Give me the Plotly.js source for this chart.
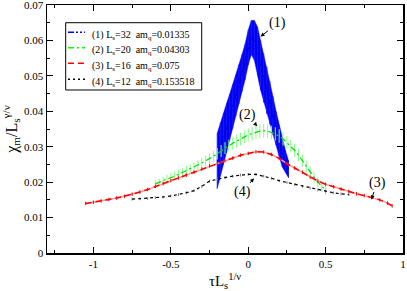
<!DOCTYPE html>
<html>
<head>
<meta charset="utf-8">
<script src="https://cdn.plot.ly/plotly-3.0.1.min.js"></script>
<style>html,body{margin:0;padding:0;background:#fff;}#chart{width:407px;height:291px;}</style>
</head>
<body>
<div id="chart"></div>
<script>
// Series (1) Ls=32
const blueX = [-0.20,-0.18,-0.16,-0.14,-0.12,-0.10,-0.08,-0.06,-0.04,-0.02,0.00,0.02,0.04,0.06,0.08,0.10,0.12,0.14,0.16,0.18,0.20,0.22,0.24,0.26];
const blueY = [0.0260,0.0294,0.0322,0.0352,0.0382,0.0413,0.0444,0.0476,0.0508,0.0540,0.0580,0.0608,0.0600,0.0570,0.0530,0.0494,0.0459,0.0424,0.0388,0.0352,0.0317,0.0283,0.0259,0.0237];
const blueErr = [0.0078,0.0074,0.0073,0.0070,0.0066,0.0062,0.0058,0.0055,0.0052,0.0050,0.0049,0.0048,0.0056,0.0068,0.0070,0.0069,0.0067,0.0061,0.0054,0.0048,0.0044,0.0040,0.0031,0.0024];
// Series (2) Ls=20
const greenX = [-0.600,-0.575,-0.550,-0.525,-0.500,-0.475,-0.450,-0.425,-0.400,-0.375,-0.350,-0.325,-0.300,
  -0.275,-0.250,-0.225,-0.200,-0.175,-0.150,-0.125,-0.100,-0.075,-0.050,-0.025,0.000,
  0.025,0.050,0.075,0.100,0.125,0.150,0.175,0.200,0.225,0.250,0.275,0.300,
  0.325,0.350,0.375,0.400,0.425,0.450,0.475,0.500];
const greenY = [0.0195,0.0199,0.0203,0.0208,0.0213,0.0217,0.0222,0.0227,0.0232,0.0237,0.0242,0.0248,0.0254,
  0.0260,0.0266,0.0273,0.0280,0.0288,0.0296,0.0303,0.0310,0.0316,0.0322,0.0328,0.0333,
  0.0337,0.0341,0.0344,0.0345,0.0344,0.0340,0.0336,0.0330,0.0322,0.0312,0.0302,0.0290,
  0.0276,0.0260,0.0244,0.0228,0.0214,0.0200,0.0188,0.0177];
const greenErr = [0.0011,0.0011,0.0012,0.0012,0.0012,0.0013,0.0013,0.0013,0.0014,0.0014,0.0014,0.0015,0.0015,
  0.0015,0.0016,0.0016,0.0016,0.0017,0.0017,0.0017,0.0018,0.0018,0.0018,0.0018,0.0019,
  0.0019,0.0019,0.0019,0.0019,0.0019,0.0019,0.0019,0.0019,0.0019,0.0018,0.0018,0.0018,
  0.0017,0.0017,0.0016,0.0016,0.0015,0.0014,0.0014,0.0013];
// Series (3) Ls=16
const redX = [-1.05,-1.00,-0.95,-0.90,-0.85,-0.80,-0.75,-0.70,-0.65,-0.60,-0.55,-0.50,-0.45,-0.40,-0.35,-0.30,-0.25,-0.20,-0.15,-0.10,-0.05,
  0.00,0.05,0.10,0.15,0.20,0.25,0.30,0.35,0.40,0.45,0.50,0.55,0.60,0.65,0.70,0.75,0.80,0.85,0.90,0.93];
const redY = [0.0140,0.0143,0.0147,0.0151,0.0155,0.0160,0.0166,0.0172,0.0179,0.0188,0.0196,0.0204,0.0212,0.0220,0.0228,0.0237,0.0246,0.0254,0.0261,0.0268,0.0276,
  0.0281,0.0286,0.0285,0.0278,0.0267,0.0252,0.0240,0.0228,0.0214,0.0203,0.0194,0.0187,0.0180,0.0174,0.0167,0.0162,0.0157,0.0150,0.0141,0.0133];
const redErr = 0.0005;
// Series (4) Ls=12
const blackX = [-0.75,-0.70,-0.65,-0.60,-0.55,-0.50,-0.45,-0.40,-0.35,-0.30,-0.25,-0.20,-0.15,-0.10,-0.05,
  0.00,0.05,0.10,0.15,0.20,0.25,0.30,0.35,0.40,0.45,0.50,0.55,0.60,0.65];
const blackY = [0.0152,0.0153,0.0154,0.0156,0.0158,0.0161,0.0165,0.0170,0.0176,0.0188,0.0203,0.0209,0.0213,0.0217,0.0220,
  0.0222,0.0222,0.0217,0.0211,0.0204,0.0199,0.0193,0.0188,0.0183,0.0178,0.0174,0.0170,0.0167,0.0165];
const blackErr = 0.0004;

const names = [
  "(1)\u00a0L<sub>s</sub>=32\u00a0\u00a0am<sub>q</sub>=0.01335",
  "(2)\u00a0L<sub>s</sub>=20\u00a0\u00a0am<sub>q</sub>=0.04303",
  "(3)\u00a0L<sub>s</sub>=16\u00a0\u00a0am<sub>q</sub>=0.075",
  "(4)\u00a0L<sub>s</sub>=12\u00a0\u00a0am<sub>q</sub>=0.153518"
];
const lineColors = ['#0000c8', '#00dd00', '#ff0000', '#000000'];
const legendColors = ['#0000ff', '#00ff00', '#ff0000', '#000000'];
const lineDashes = ['6px,2px,2px,2px,2px,2px', '6px,3px,2px,3px', '6px,4px', '2px,3px'];
const xTicks = [-1,-0.5,0,0.5,1];
const xTickText = ["-1","-0.5","0","0.5","1"];
const yTicks = [0,0.01,0.02,0.03,0.04,0.05,0.06,0.07];
const yTickText = ["0","0.01","0.02","0.03","0.04","0.05","0.06","0.07"];

const serif = "Liberation Serif, Times New Roman, serif";

const bandX = blueX.concat(blueX.slice().reverse());
const bandY = blueY.map((v, i) => v + blueErr[i]).concat(blueY.map((v, i) => v - blueErr[i]).reverse());

const traces = [
  {x: bandX, y: bandY, type: 'scatter', mode: 'lines', fill: 'toself', fillcolor: '#0000ff',
   line: {width: 0.5, color: '#0000ff'}, showlegend: false, hoverinfo: 'skip'},
  {x: blueX, y: blueY, name: names[0], mode: 'lines', type: 'scatter', showlegend: false,
   line: {color: lineColors[0], width: 1.2, dash: lineDashes[0]},
   error_y: {type: 'data', array: blueErr, visible: true, width: 0, thickness: 1, color: '#1a1aee'}},
  {x: greenX, y: greenY, name: names[1], mode: 'lines', type: 'scatter', showlegend: false,
   line: {color: lineColors[1], width: 1.2, dash: lineDashes[1]},
   error_y: {type: 'data', array: greenErr, visible: true, width: 0, thickness: 1, color: '#80ff80'}},
  {x: redX, y: redY, mode: 'lines', type: 'scatter', showlegend: false, hoverinfo: 'skip',
   line: {color: '#ff9a9a', width: 1.5}},
  {x: redX, y: redY, name: names[2], mode: 'lines', type: 'scatter', showlegend: false,
   line: {color: lineColors[2], width: 1.5, dash: lineDashes[2]},
   error_y: {type: 'constant', value: redErr, visible: true, width: 0, thickness: 1, color: '#ff0000'}},
  {x: blackX, y: blackY, name: names[3], mode: 'lines', type: 'scatter', showlegend: false,
   line: {color: lineColors[3], width: 1.2, dash: 'dot'},
   error_y: {type: 'constant', value: blackErr, visible: true, width: 0, thickness: 1, color: '#777777'}}
];

const axisCommon = {
  showline: true, linecolor: '#000', linewidth: 1.5, mirror: 'ticks',
  ticks: 'inside', ticklen: 6, tickwidth: 1, tickcolor: '#000',
  showgrid: false, zeroline: false, automargin: false, ticklabeloverflow: 'allow',
  tickfont: {family: serif, size: 11, color: '#000'}
};

// Legend drawn as box + samples + texts in paper coordinates
const legRows = [0.8899, 0.8278, 0.7649, 0.7004];
const shapes = [
  {type: 'rect', xref: 'paper', yref: 'paper', x0: 0.0525, x1: 0.4346, y0: 0.6573, y1: 0.9286,
   line: {color: '#000', width: 1}, fillcolor: 'rgba(255,255,255,0)'}
];
const legAnn = [];
names.forEach((n, i) => {
  shapes.push({type: 'line', xref: 'paper', yref: 'paper', x0: 0.059, x1: 0.1067, y0: legRows[i], y1: legRows[i],
    line: {color: legendColors[i], width: 1.5, dash: lineDashes[i]}});
  legAnn.push({xref: 'paper', yref: 'paper', x: 0.1200, y: legRows[i] - 0.012, xanchor: 'left', yanchor: 'middle',
    text: n, showarrow: false, font: {family: serif, size: 10, color: '#000'}});
});

const arrowAnn = (hx, hy, tx, ty, label) => ({x: hx, y: hy, ax: tx, ay: ty, axref: 'x', ayref: 'y', text: label,
  showarrow: true, arrowhead: 2, arrowsize: 0.8, arrowwidth: 1, arrowcolor: '#000',
  font: {family: serif, size: 14, color: '#000'}});

const layout = {
  width: 407, height: 291,
  margin: {l: 47, r: 4, t: 5, b: 38},
  paper_bgcolor: '#fff', plot_bgcolor: '#fff',
  showlegend: false,
  xaxis: Object.assign({}, axisCommon, {
    range: [-1.3, 1], tickmode: 'array', tickvals: xTicks, ticktext: xTickText,
    minor: {ticks: 'inside', ticklen: 3, tickcolor: '#000', tickmode: 'array', tickvals: [-1.25,-0.75,-0.25,0.25,0.75]},
    title: {text: 'τL<sub>s</sub><sup>1/ν</sup>', font: {family: serif, size: 15, color: '#000'}}
  }),
  yaxis: Object.assign({}, axisCommon, {
    range: [0, 0.07], tickmode: 'array', tickvals: yTicks, ticktext: yTickText,
    minor: {ticks: 'inside', ticklen: 3, tickcolor: '#000', tickmode: 'array', tickvals: [0.005,0.015,0.025,0.035,0.045,0.055,0.065]},
    title: {text: 'χ<sub>m</sub>/L<sub>s</sub><sup>γ/ν</sup>', font: {family: serif, size: 16, color: '#000'}}
  }),
  shapes: shapes,
  annotations: legAnn.concat([
    arrowAnn(0.080, 0.0611, 0.192, 0.0649, '(1)'),
    arrowAnn(0.058, 0.0358, -0.006, 0.0390, '(2)'),
    arrowAnn(0.796, 0.0151, 0.833, 0.0199, '(3)'),
    arrowAnn(0.037, 0.0211, -0.039, 0.0171, '(4)')
  ])
};

Plotly.newPlot('chart', traces, layout, {displayModeBar: false, staticPlot: true});
</script>
</body>
</html>
